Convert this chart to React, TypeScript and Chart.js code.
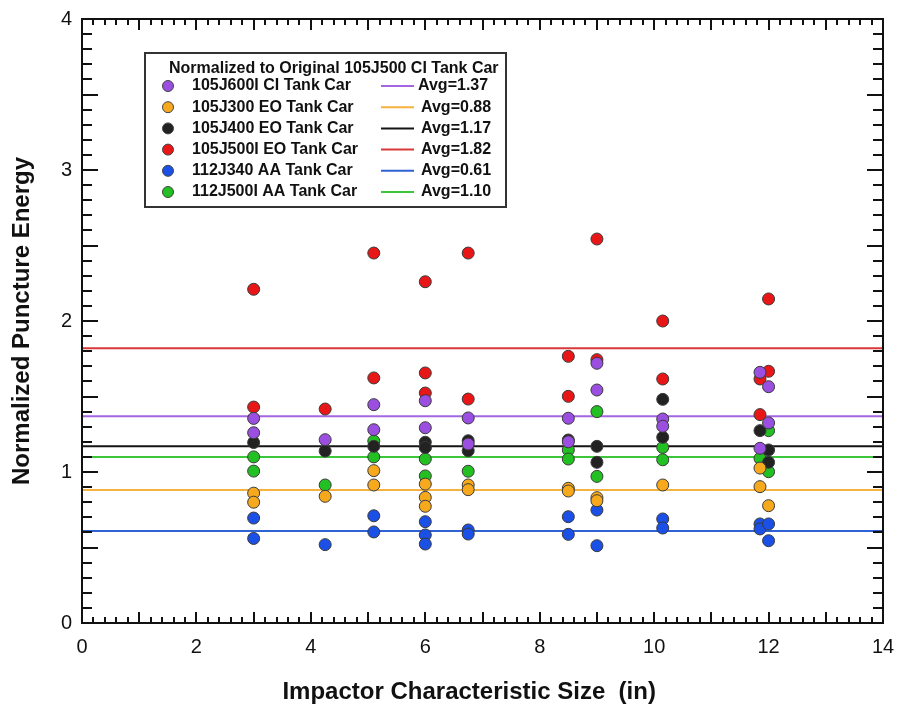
import React, { useEffect, useRef } from 'react';
import { Chart, registerables } from 'chart.js';

Chart.register(...registerables);

const X_MIN = 0;
const X_MAX = 14;
const Y_MIN = 0;
const Y_MAX = 4;

const xTitle = 'Impactor Characteristic Size  (in)';
const yTitle = 'Normalized Puncture Energy';
const legendTitle = 'Normalized to Original 105J500 CI Tank Car';

const seriesNames = [
  '105J600I CI Tank Car',
  '105J300 EO Tank Car',
  '105J400 EO Tank Car',
  '105J500I EO Tank Car',
  '112J340 AA Tank Car',
  '112J500I AA Tank Car',
];
const avgValues = [1.37, 0.88, 1.17, 1.82, 0.61, 1.1];
const avgLabels = ['Avg=1.37', 'Avg=0.88', 'Avg=1.17', 'Avg=1.82', 'Avg=0.61', 'Avg=1.10'];
const pointColors = ['#9a4fe0', '#f7a91e', '#222222', '#e81616', '#1b50e6', '#22c022'];
const lineColors = ['#a466e0', '#f6b23e', '#151515', '#d83838', '#2f62d4', '#3cc63c'];

// 105J600I CI
const purpleX = [3, 3, 4.25, 5.1, 5.1, 6, 6, 6.75, 6.75, 8.5, 8.5, 9, 9, 10.15, 10.15, 11.85, 11.85, 12, 12];
const purpleY = [1.355, 1.26, 1.214, 1.446, 1.28, 1.472, 1.293, 1.358, 1.185, 1.356, 1.2, 1.72, 1.543, 1.351, 1.303, 1.66, 1.157, 1.565, 1.325];
// 105J300 EO
const orangeX = [3, 3, 4.25, 5.1, 5.1, 6, 6, 6, 6.75, 6.75, 8.5, 8.5, 9, 9, 10.15, 11.85, 11.85, 12];
const orangeY = [0.86, 0.8, 0.839, 1.009, 0.914, 0.92, 0.832, 0.773, 0.914, 0.883, 0.892, 0.874, 0.83, 0.81, 0.914, 1.026, 0.903, 0.777];
// 105J400 EO
const blackX = [3, 4.25, 5.1, 6, 6, 6.75, 6.75, 8.5, 9, 9, 10.15, 10.15, 11.85, 12, 12];
const blackY = [1.195, 1.139, 1.17, 1.197, 1.163, 1.207, 1.141, 1.212, 1.17, 1.064, 1.481, 1.23, 1.274, 1.146, 1.064];
// 105J500I EO
const redX = [3, 3, 4.25, 5.1, 5.1, 6, 6, 6, 6.75, 6.75, 8.5, 8.5, 9, 9, 10.15, 10.15, 11.85, 11.85, 12, 12];
const redY = [2.21, 1.43, 1.417, 2.45, 1.623, 2.26, 1.656, 1.523, 2.45, 1.483, 1.766, 1.501, 2.543, 1.744, 2.0, 1.616, 1.616, 1.38, 2.146, 1.667];
// 112J340 AA
const blueX = [3, 3, 4.25, 5.1, 5.1, 6, 6, 6, 6.75, 6.75, 8.5, 8.5, 9, 9, 10.15, 10.15, 11.85, 11.85, 12, 12];
const blueY = [0.695, 0.56, 0.519, 0.71, 0.603, 0.671, 0.583, 0.523, 0.616, 0.589, 0.704, 0.587, 0.748, 0.512, 0.689, 0.629, 0.656, 0.623, 0.656, 0.545];
// 112J500I AA
const greenX = [3, 3, 4.25, 5.1, 5.1, 6, 6, 6, 6.75, 8.5, 8.5, 9, 9, 10.15, 10.15, 11.85, 12, 12];
const greenY = [1.1, 1.006, 0.914, 1.205, 1.1, 1.163, 1.086, 0.974, 1.005, 1.146, 1.086, 1.4, 0.971, 1.163, 1.081, 1.09, 1.274, 1.002];

const seriesX = [purpleX, orangeX, blackX, redX, blueX, greenX];
const seriesY = [purpleY, orangeY, blackY, redY, blueY, greenY];

const FONT = '"Liberation Sans", Arial, Helvetica, sans-serif';

const frameTicks = {
  id: 'frameTicks',
  afterDraw(chart: any) {
    const { ctx, chartArea, scales } = chart;
    const { left, right, top, bottom } = chartArea;
    const xs = scales.x;
    const ys = scales.y;
    ctx.save();
    ctx.strokeStyle = '#111';
    ctx.lineWidth = 2;
    ctx.beginPath();
    for (let i = 0; i <= 70; i++) {
      const px = Math.round(xs.getPixelForValue(i * 0.2));
      const len = i % 5 === 0 ? 11 : 6;
      ctx.moveTo(px, bottom);
      ctx.lineTo(px, bottom - len);
      ctx.moveTo(px, top);
      ctx.lineTo(px, top + len);
    }
    for (let i = 0; i <= 40; i++) {
      const py = Math.round(ys.getPixelForValue(i * 0.1));
      const len = i % 5 === 0 ? 16 : 10;
      ctx.moveTo(left, py);
      ctx.lineTo(left + len, py);
      ctx.moveTo(right, py);
      ctx.lineTo(right - len, py);
    }
    ctx.stroke();
    ctx.lineWidth = 2;
    ctx.strokeRect(left, top, right - left, bottom - top);
    ctx.restore();
  },
};

const boxLegend = {
  id: 'boxLegend',
  afterDraw(chart: any) {
    const { ctx } = chart;
    const bx = 145;
    const by = 53;
    const bw = 361;
    const bh = 154;
    ctx.save();
    ctx.fillStyle = '#ffffff';
    ctx.fillRect(bx, by, bw, bh);
    ctx.strokeStyle = '#333';
    ctx.lineWidth = 2;
    ctx.strokeRect(bx, by, bw, bh);
    ctx.fillStyle = '#111';
    ctx.font = `bold 16px ${FONT}`;
    ctx.textBaseline = 'middle';
    ctx.textAlign = 'left';
    ctx.fillText(legendTitle, 169, 69);
    for (let i = 0; i < seriesNames.length; i++) {
      const cy = 86 + i * 21.2;
      ctx.beginPath();
      ctx.arc(168, cy, 5.5, 0, Math.PI * 2);
      ctx.fillStyle = pointColors[i];
      ctx.fill();
      ctx.lineWidth = 1;
      ctx.strokeStyle = '#444';
      ctx.stroke();
      ctx.fillStyle = '#111';
      ctx.font = `bold 16px ${FONT}`;
      ctx.fillText(seriesNames[i], 192, cy);
      ctx.beginPath();
      ctx.moveTo(381, cy);
      ctx.lineTo(414, cy);
      ctx.strokeStyle = lineColors[i];
      ctx.lineWidth = 2;
      ctx.stroke();
      ctx.fillStyle = '#111';
      ctx.fillText(avgLabels[i], i === 0 ? 418 : 421, cy);
    }
    ctx.restore();
  },
};

export default function App() {
  const ref = useRef<HTMLCanvasElement | null>(null);

  useEffect(() => {
    const canvas = ref.current;
    if (!canvas) return;
    const pointSets = seriesNames.map((name, i) => ({
      type: 'scatter' as const,
      label: name,
      data: seriesX[i].map((x, j) => ({ x, y: seriesY[i][j] })),
      backgroundColor: pointColors[i],
      borderColor: '#3a3a3a',
      pointRadius: 6,
      pointBorderWidth: 1,
      showLine: false,
      order: 1,
    }));
    const avgSets = avgValues.map((v, i) => ({
      type: 'line' as const,
      label: avgLabels[i],
      data: [
        { x: X_MIN, y: v },
        { x: X_MAX, y: v },
      ],
      borderColor: lineColors[i],
      borderWidth: 2,
      pointRadius: 0,
      fill: false,
      order: 10,
    }));
    const chart = new Chart(canvas, {
      type: 'scatter',
      data: { datasets: [...pointSets, ...avgSets] as any },
      options: {
        animation: false,
        responsive: false,
        devicePixelRatio: 1,
        layout: { padding: { top: 19, right: 16, left: 0, bottom: 0 } },
        plugins: { legend: { display: false }, tooltip: { enabled: false } },
        scales: {
          x: {
            type: 'linear',
            min: X_MIN,
            max: X_MAX,
            grid: { display: false, drawTicks: false },
            border: { display: false },
            ticks: { stepSize: 2, padding: 12, color: '#111', font: { family: FONT, size: 20 } },
            title: {
              display: true,
              text: xTitle + '    ',
              color: '#111',
              font: { family: FONT, size: 24, weight: 'bold' },
              padding: { top: 0, bottom: 4 },
            },
            afterFit: (s: any) => {
              s.height = 88;
              s.paddingLeft = 0;
              s.paddingRight = 0;
            },
          },
          y: {
            type: 'linear',
            min: Y_MIN,
            max: Y_MAX,
            grid: { display: false, drawTicks: false },
            border: { display: false },
            ticks: { stepSize: 1, padding: 10, color: '#111', font: { family: FONT, size: 20 } },
            title: {
              display: true,
              text: yTitle,
              color: '#111',
              font: { family: FONT, size: 24, weight: 'bold' },
              padding: { top: 8, bottom: 0 },
            },
            afterFit: (s: any) => {
              s.width = 82;
              s.paddingTop = 0;
              s.paddingBottom = 0;
            },
          },
        },
      } as any,
      plugins: [frameTicks, boxLegend],
    });
    return () => chart.destroy();
  }, []);

  return (
    <div style={{ position: 'absolute', left: 0, top: 0, width: 899, height: 711, background: '#fff' }}>
      <canvas ref={ref} width={899} height={711} style={{ width: 899, height: 711, display: 'block' }} />
    </div>
  );
}
